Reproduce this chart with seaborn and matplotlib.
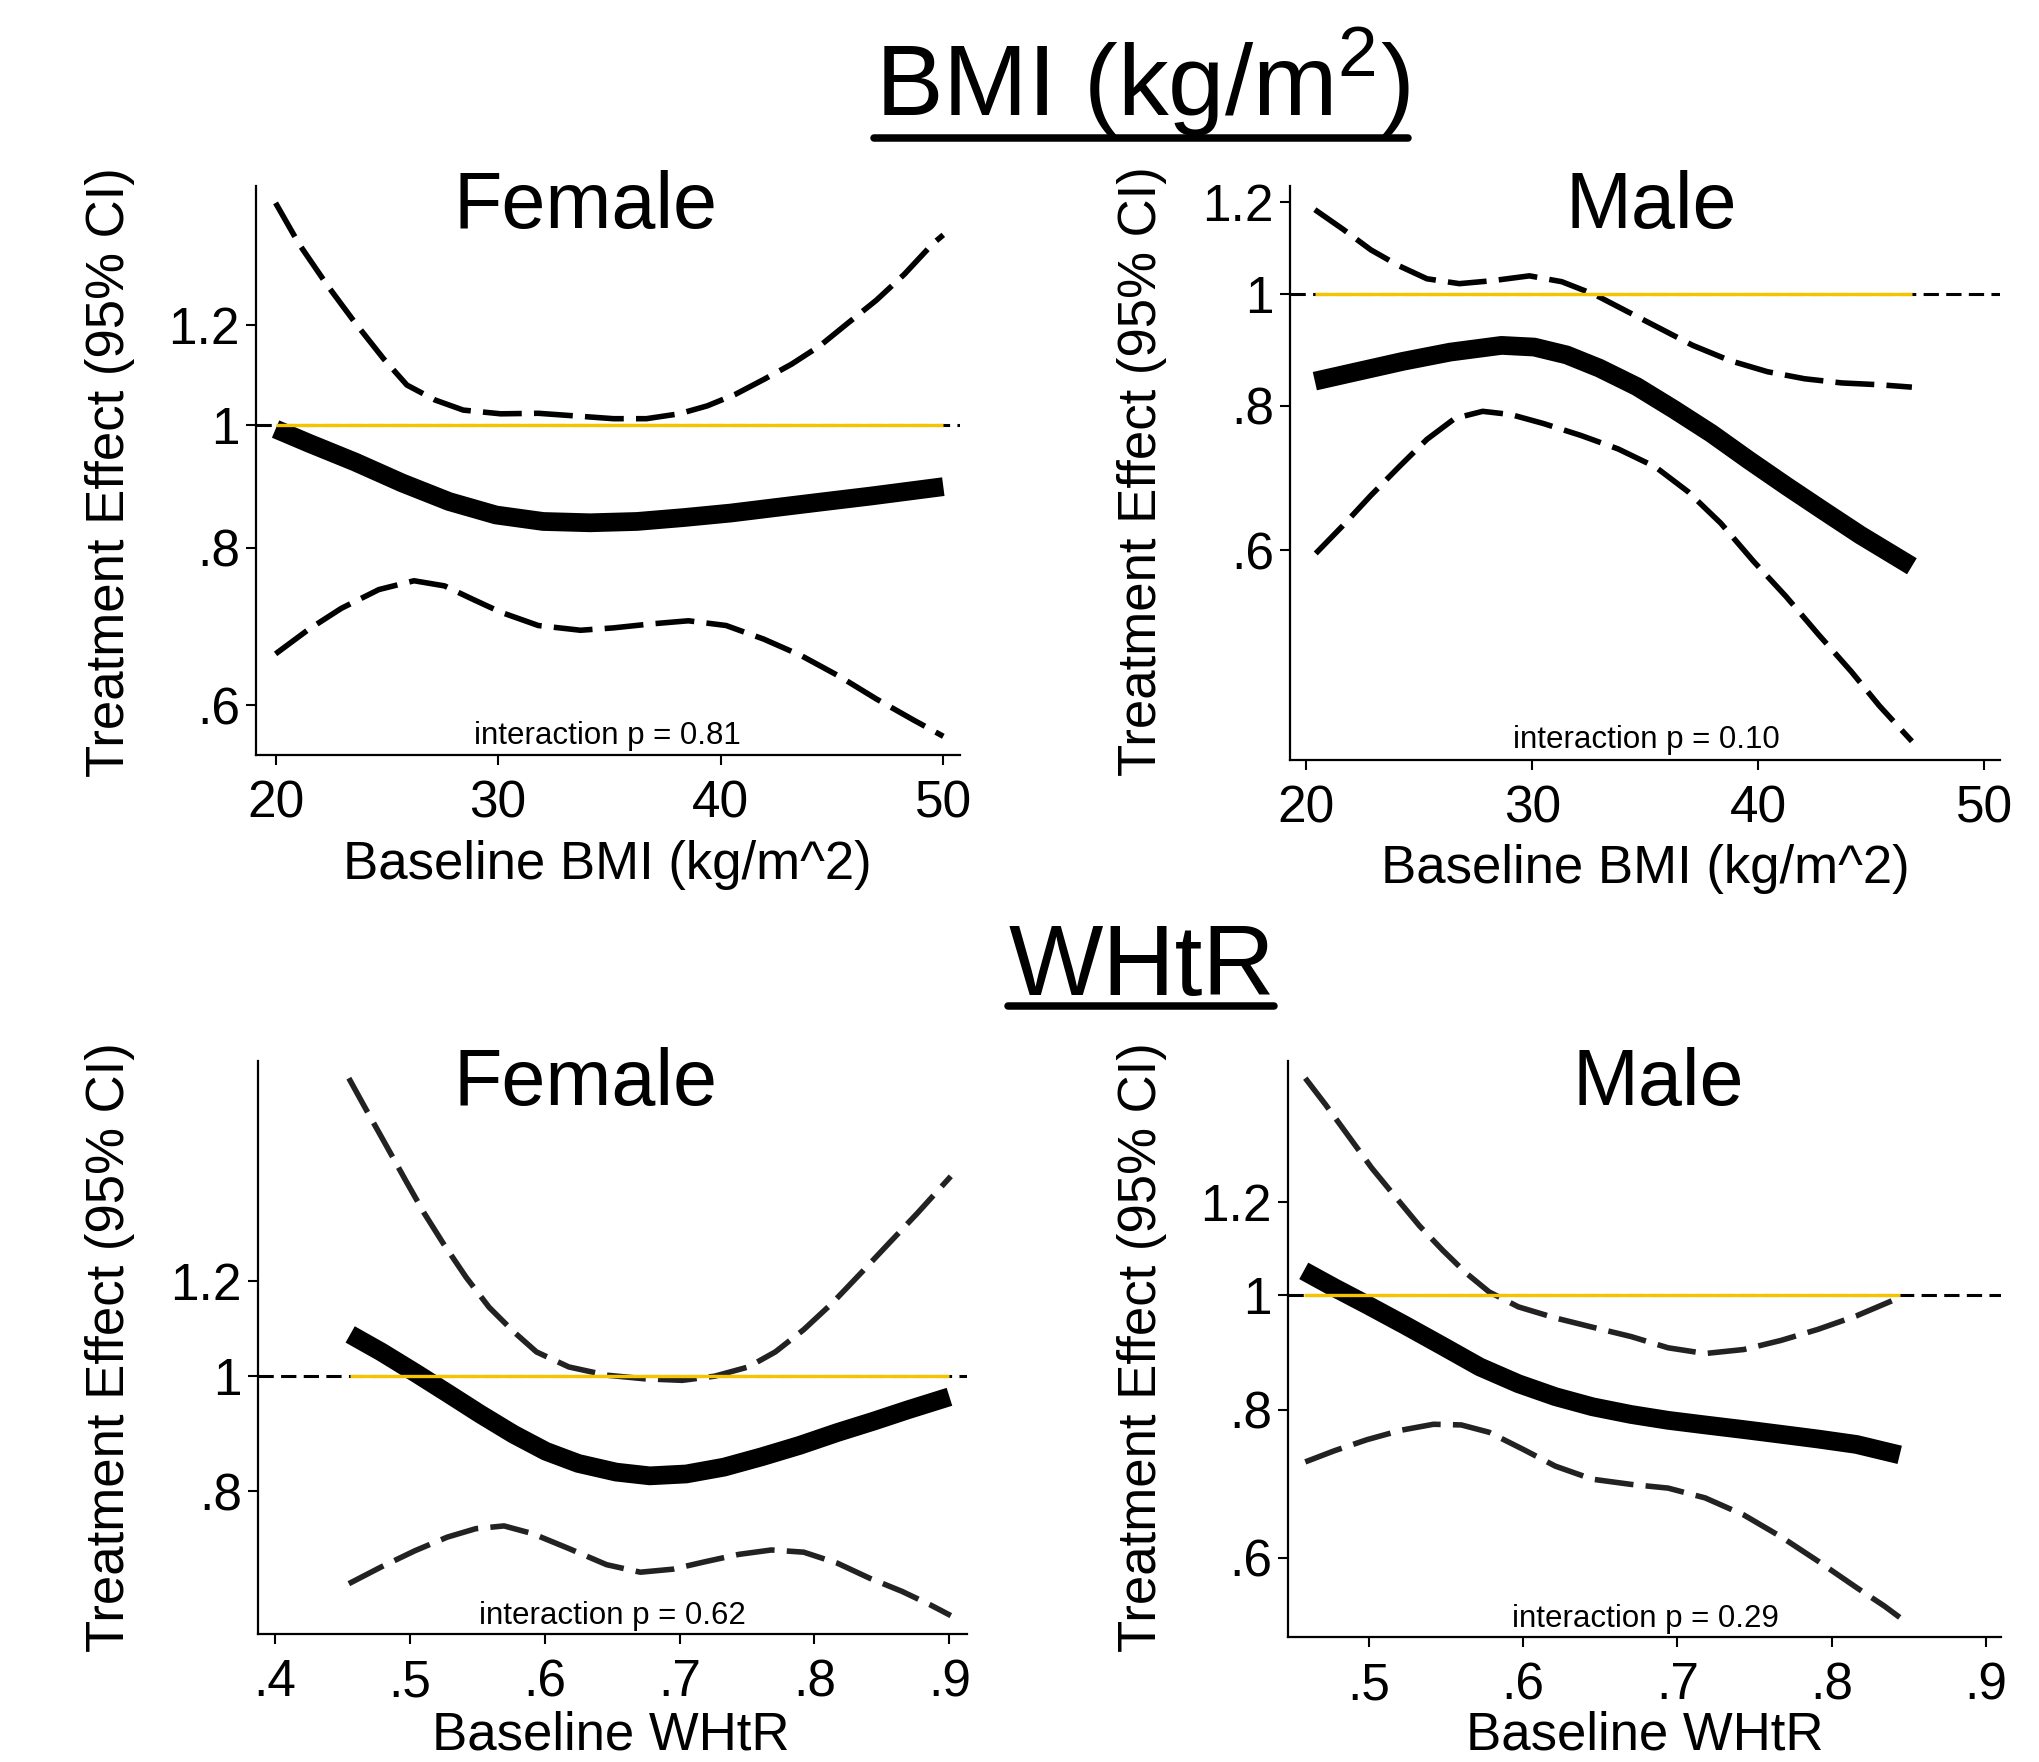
import numpy as np
import pandas as pd
import matplotlib
matplotlib.use("Agg")
import matplotlib.pyplot as plt
import seaborn as sns
from matplotlib.lines import Line2D
from matplotlib.ticker import FixedLocator, FixedFormatter, NullLocator

# ---------------- data ----------------
# BMI, female
bmi_f_hi_x = [20.0, 21.05, 22.32, 23.58, 24.85, 25.9, 27.17, 28.43, 30.12, 31.8, 33.5, 35.18, 36.66,
              38.13, 39.4, 40.66, 41.93, 43.19, 44.46, 45.72, 46.99, 48.25, 49.52, 50.0]
bmi_f_hi_y = [1.50, 1.392, 1.291, 1.205, 1.129, 1.076, 1.047, 1.028, 1.021, 1.022, 1.017, 1.012, 1.012,
              1.021, 1.036, 1.058, 1.087, 1.118, 1.156, 1.205, 1.256, 1.317, 1.392, 1.415]
bmi_f_est_x = [20.0, 21.48, 23.58, 25.69, 27.8, 29.9, 32.02, 34.13, 36.23, 38.34, 40.45, 42.56, 44.67, 46.78, 50.0]
bmi_f_est_y = [0.993, 0.968, 0.935, 0.900, 0.870, 0.849, 0.839, 0.837, 0.839, 0.845, 0.852, 0.861, 0.870, 0.879, 0.894]
bmi_f_lo_x = [20.0, 21.48, 22.95, 24.64, 26.22, 27.59, 28.86, 30.12, 31.8, 33.7, 35.18, 36.87, 38.55,
              40.24, 41.93, 43.61, 45.3, 46.99, 48.67, 50.0]
bmi_f_lo_y = [0.659, 0.689, 0.716, 0.741, 0.753, 0.746, 0.728, 0.711, 0.694, 0.688, 0.691, 0.696, 0.700,
              0.694, 0.677, 0.657, 0.633, 0.607, 0.584, 0.567]

# BMI, male
bmi_m_hi_x = [20.37, 21.61, 22.85, 24.09, 25.33, 26.77, 28.22, 29.87, 31.3, 32.76, 34.2, 35.65, 37.1,
              38.75, 40.4, 42.05, 43.7, 45.36, 46.8]
bmi_m_hi_y = [1.182, 1.137, 1.091, 1.057, 1.030, 1.020, 1.026, 1.036, 1.024, 0.998, 0.965, 0.933, 0.902,
              0.875, 0.856, 0.844, 0.837, 0.834, 0.830]
bmi_m_est_x = [20.37, 22.23, 24.29, 26.36, 28.63, 30.08, 31.52, 32.97, 34.62, 36.27, 37.92, 39.57,
               41.23, 42.88, 44.53, 46.8]
bmi_m_est_y = [0.840, 0.856, 0.874, 0.890, 0.902, 0.899, 0.885, 0.862, 0.831, 0.794, 0.757, 0.718,
               0.682, 0.649, 0.618, 0.581]
bmi_m_lo_x = [20.41, 21.61, 22.85, 24.09, 25.33, 26.57, 27.8, 29.04, 30.49, 32.14, 33.79, 35.45, 36.89,
              38.34, 39.78, 41.23, 42.67, 44.12, 45.36, 46.8]
bmi_m_lo_y = [0.596, 0.630, 0.669, 0.708, 0.748, 0.780, 0.791, 0.786, 0.772, 0.754, 0.734, 0.708, 0.674,
              0.633, 0.587, 0.547, 0.507, 0.471, 0.440, 0.410]

# WHtR, female
whtr_f_hi_x = [0.455, 0.469, 0.483, 0.497, 0.511, 0.525, 0.542, 0.559, 0.577, 0.594, 0.618, 0.646,
               0.674, 0.702, 0.726, 0.751, 0.771, 0.792, 0.813, 0.834, 0.855, 0.876, 0.901]
whtr_f_hi_y = [1.777, 1.663, 1.558, 1.459, 1.368, 1.291, 1.209, 1.141, 1.089, 1.047, 1.017, 1.001,
               0.994, 0.991, 0.999, 1.017, 1.047, 1.093, 1.150, 1.218, 1.291, 1.368, 1.470]
whtr_f_est_x = [0.456, 0.479, 0.504, 0.528, 0.552, 0.577, 0.601, 0.625, 0.653, 0.678, 0.705, 0.733,
                0.761, 0.789, 0.817, 0.844, 0.869, 0.900]
whtr_f_est_y = [1.083, 1.047, 1.006, 0.967, 0.929, 0.893, 0.864, 0.844, 0.830, 0.824, 0.827, 0.838,
                0.855, 0.874, 0.896, 0.916, 0.936, 0.960]
whtr_f_lo_x = [0.455, 0.479, 0.504, 0.528, 0.549, 0.570, 0.591, 0.618, 0.646, 0.671, 0.695, 0.719,
               0.744, 0.768, 0.792, 0.817, 0.841, 0.865, 0.886, 0.901]
whtr_f_lo_y = [0.669, 0.691, 0.713, 0.732, 0.744, 0.748, 0.737, 0.716, 0.694, 0.684, 0.688, 0.698,
               0.708, 0.714, 0.711, 0.696, 0.676, 0.659, 0.642, 0.629]

# WHtR, male
whtr_m_hi_x = [0.459, 0.472, 0.487, 0.502, 0.518, 0.533, 0.548, 0.563, 0.578, 0.597, 0.621, 0.645,
               0.670, 0.694, 0.718, 0.743, 0.767, 0.791, 0.816, 0.844]
whtr_m_hi_y = [1.527, 1.451, 1.364, 1.282, 1.209, 1.145, 1.092, 1.045, 1.007, 0.978, 0.957, 0.940,
               0.923, 0.903, 0.893, 0.900, 0.916, 0.936, 0.961, 0.996]
whtr_m_est_x = [0.458, 0.478, 0.499, 0.524, 0.548, 0.572, 0.597, 0.621, 0.645, 0.670, 0.694, 0.718,
                0.743, 0.767, 0.791, 0.816, 0.844]
whtr_m_est_y = [1.049, 1.015, 0.982, 0.943, 0.906, 0.870, 0.842, 0.821, 0.805, 0.793, 0.784, 0.777,
                0.770, 0.763, 0.756, 0.748, 0.733]
whtr_m_lo_x = [0.459, 0.478, 0.499, 0.521, 0.542, 0.560, 0.578, 0.600, 0.621, 0.645, 0.670, 0.694,
               0.718, 0.743, 0.767, 0.791, 0.816, 0.834, 0.844]
whtr_m_lo_y = [0.723, 0.739, 0.755, 0.769, 0.778, 0.777, 0.766, 0.741, 0.717, 0.699, 0.692, 0.687,
               0.674, 0.652, 0.625, 0.596, 0.566, 0.546, 0.534]

bmi_xticks = [20, 30, 40, 50]
bmi_xticklabels = ["20", "30", "40", "50"]
whtr_f_xticks = [0.4, 0.5, 0.6, 0.7, 0.8, 0.9]
whtr_f_xticklabels = [".4", ".5", ".6", ".7", ".8", ".9"]
whtr_m_xticks = [0.5, 0.6, 0.7, 0.8, 0.9]
whtr_m_xticklabels = [".5", ".6", ".7", ".8", ".9"]
yticks_4 = [0.6, 0.8, 1.0, 1.2]
yticklabels_4 = [".6", ".8", "1", "1.2"]
yticks_3 = [0.8, 1.0, 1.2]
yticklabels_3 = [".8", "1", "1.2"]

p_values = ["0.81", "0.10", "0.62", "0.29"]

# ---------------- style ----------------
sns.set_style("ticks")
plt.rcParams['font.family'] = ['Liberation Sans', 'DejaVu Sans']
plt.rcParams['text.color'] = 'black'
plt.rcParams['axes.labelcolor'] = 'black'
plt.rcParams['xtick.color'] = 'black'
plt.rcParams['ytick.color'] = 'black'
plt.rcParams['mathtext.fontset'] = 'custom'
plt.rcParams['mathtext.rm'] = 'Liberation Sans'

W, H = 2039, 1762
fig = plt.figure(figsize=(W / 100, H / 100), dpi=100)


def fx(px):
    return px / W


def fy(py):
    return 1 - py / H


def make_ax(left, top, right, bottom):
    return fig.add_axes([fx(left), fy(bottom), (right - left) / W, (bottom - top) / H])


def panel(ax, est_x, est_y, lo_x, lo_y, hi_x, hi_y, xlim, ylim,
          xticks, xticklabels, yticks, yticklabels, ci_color):
    ax.set_yscale('log')
    ax.set_xlim(*xlim)
    ax.set_ylim(*ylim)

    # reference line at 1: black dashed across the axis, yellow over the data range
    ax.axhline(1.0, color='black', lw=2.2, linestyle=(0, (5, 2.4)), zorder=1)

    df_hi = pd.DataFrame({'x': hi_x, 'y': hi_y})
    df_lo = pd.DataFrame({'x': lo_x, 'y': lo_y})
    df_est = pd.DataFrame({'x': est_x, 'y': est_y})

    for d in (df_hi, df_lo):
        sns.lineplot(data=d, x='x', y='y', ax=ax, estimator=None, sort=False,
                     color=ci_color, linewidth=4, linestyle=(0, (7, 2.2)), zorder=2)
    sns.lineplot(data=df_est, x='x', y='y', ax=ax, estimator=None, sort=False,
                 color='black', linewidth=13.5, solid_capstyle='butt',
                 solid_joinstyle='round', zorder=3)

    ax.hlines(1.0, min(est_x), max(est_x), color='#F5C400', lw=2.4, zorder=4)

    ax.xaxis.set_major_locator(FixedLocator(xticks))
    ax.xaxis.set_major_formatter(FixedFormatter(xticklabels))
    ax.yaxis.set_major_locator(FixedLocator(yticks))
    ax.yaxis.set_major_formatter(FixedFormatter(yticklabels))
    ax.yaxis.set_minor_locator(NullLocator())
    ax.xaxis.set_minor_locator(NullLocator())

    ax.tick_params(axis='both', which='major', direction='out', length=7.5, width=1.5,
                   labelsize=37, color='black', labelcolor='black')
    ax.tick_params(axis='x', pad=10)
    ax.tick_params(axis='y', pad=4)
    ax.set_xlabel('')
    ax.set_ylabel('')
    sns.despine(ax=ax)
    for s in ('left', 'bottom'):
        ax.spines[s].set_linewidth(1.6)
        ax.spines[s].set_color('black')
    ax.set_facecolor('white')


ax1 = make_ax(256, 186, 960, 755)
panel(ax1, bmi_f_est_x, bmi_f_est_y, bmi_f_lo_x, bmi_f_lo_y, bmi_f_hi_x, bmi_f_hi_y,
      (19.12, 50.75), (0.548, 1.547), bmi_xticks, bmi_xticklabels, yticks_4, yticklabels_4, 'black')

ax2 = make_ax(1290, 186, 2000, 760)
panel(ax2, bmi_m_est_x, bmi_m_est_y, bmi_m_lo_x, bmi_m_lo_y, bmi_m_hi_x, bmi_m_hi_y,
      (19.27, 50.7), (0.395, 1.239), bmi_xticks, bmi_xticklabels, yticks_4, yticklabels_4, 'black')

ax3 = make_ax(258, 1061, 967, 1634)
panel(ax3, whtr_f_est_x, whtr_f_est_y, whtr_f_lo_x, whtr_f_lo_y, whtr_f_hi_x, whtr_f_hi_y,
      (0.3877, 0.9130), (0.607, 1.837), whtr_f_xticks, whtr_f_xticklabels, yticks_3, yticklabels_3, '#222222')

ax4 = make_ax(1288, 1061, 2001, 1637)
panel(ax4, whtr_m_est_x, whtr_m_est_y, whtr_m_lo_x, whtr_m_lo_y, whtr_m_hi_x, whtr_m_hi_y,
      (0.4478, 0.9096), (0.514, 1.579), whtr_m_xticks, whtr_m_xticklabels, yticks_4, yticklabels_4, '#222222')

# ---------------- texts ----------------
# section headings with underline
fig.text(fx(1142), fy(117), r"BMI (kg/m$^{\mathrm{2}}$)", fontsize=73, ha='center', va='baseline')
fig.add_artist(Line2D([fx(874), fx(1408)], [fy(138), fy(138)], color='black', lw=5.4))
fig.text(fx(1142), fy(995), "WHtR", fontsize=72, ha='center', va='baseline')
fig.add_artist(Line2D([fx(1008), fx(1274)], [fy(1006), fy(1006)], color='black', lw=5.4))

# panel titles
fig.text(fx(585), fy(228), "Female", fontsize=57, ha='center', va='baseline')
fig.text(fx(1651), fy(228), "Male", fontsize=57, ha='center', va='baseline')
fig.text(fx(585), fy(1105), "Female", fontsize=57, ha='center', va='baseline')
fig.text(fx(1658), fy(1105), "Male", fontsize=57, ha='center', va='baseline')

# axis titles
ylab = "Treatment Effect (95% CI)"
for (x, y) in [(110, 472), (1142, 471), (110, 1347), (1142, 1347)]:
    fig.text(fx(x), fy(y), ylab, fontsize=38, rotation=90, ha='center', va='center')

fig.text(fx(607), fy(879), "Baseline BMI (kg/m^2)", fontsize=38, ha='center', va='baseline')
fig.text(fx(1645), fy(883), "Baseline BMI (kg/m^2)", fontsize=38, ha='center', va='baseline')
fig.text(fx(611), fy(1749), "Baseline WHtR", fontsize=38, ha='center', va='baseline')
fig.text(fx(1645), fy(1750), "Baseline WHtR", fontsize=38, ha='center', va='baseline')

# interaction p-values
for (x, y), p in zip([(607, 744), (1646, 748), (612, 1624), (1645, 1627)], p_values):
    fig.text(fx(x), fy(y), f"interaction p = {p}", fontsize=22.5, ha='center', va='baseline')

fig.savefig("out.png", dpi=100, facecolor='white')
